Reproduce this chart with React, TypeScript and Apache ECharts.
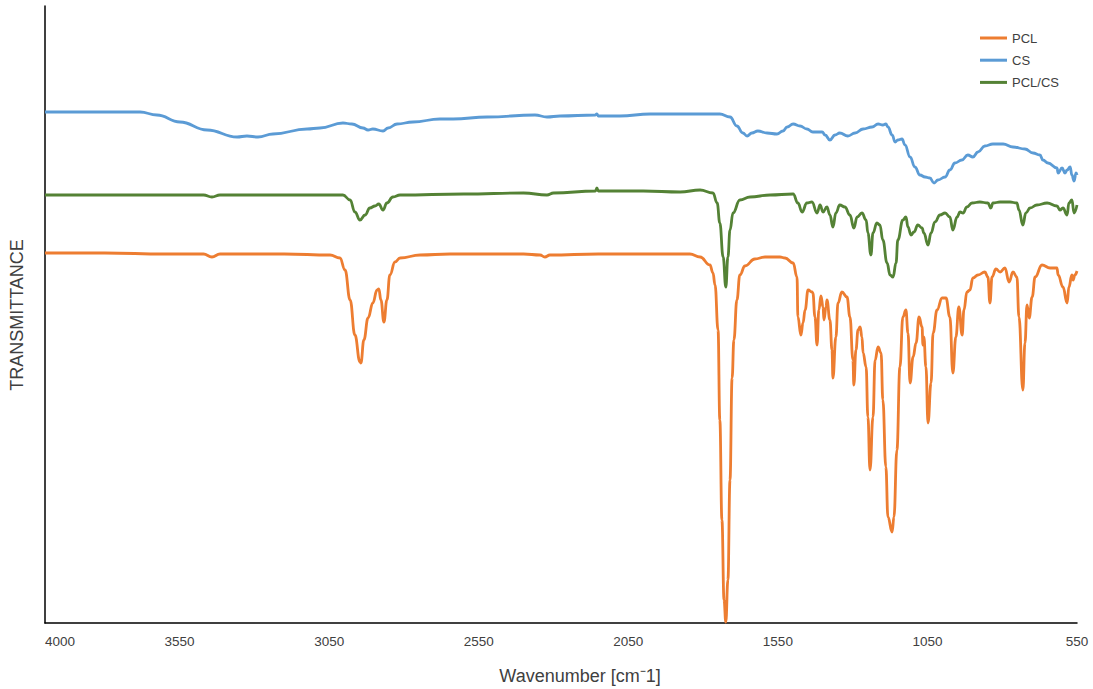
import React, { useEffect, useRef } from "react";
import * as echarts from "echarts";

const seriesNames = ["PCL", "CS", "PCL/CS"];
const seriesColors = ["#ED7D31", "#5B9BD5", "#548235"];
const xTickValues = [550, 1050, 1550, 2050, 2550, 3050, 3550, 4000];

// [wavenumber cm-1, transmittance (a.u.)]
const pclData: number[][] = [
  [4000, 74], [3800, 74], [3600, 73.8], [3470, 73.8], [3442, 73.2], [3415, 73.8], [3200, 73.8], [3047, 73.6],
  [3014, 73], [2997, 70.6], [2980, 64.6], [2964, 57.6], [2947, 52.2], [2944, 52], [2934, 56.6], [2920, 61],
  [2904, 64], [2890, 66.6], [2884, 66.8], [2877, 64.6], [2867, 60.2], [2857, 64.6], [2847, 69.6], [2830, 72.2],
  [2813, 73], [2746, 73.6], [2646, 73.8], [2400, 73.8], [2345, 73.6], [2329, 73.2], [2312, 73.6], [2150, 73.8],
  [2000, 73.8], [1844, 73.8], [1810, 73.2], [1777, 71.6], [1767, 70], [1760, 67.6], [1750, 58.6], [1744, 40.6],
  [1737, 20.6], [1730, 4.6], [1724, 0.2], [1717, 8.6], [1710, 28.6], [1703, 49], [1697, 56.6], [1687, 64.6],
  [1677, 69.6], [1660, 71.4], [1627, 72.8], [1593, 73.2], [1543, 73.2], [1526, 73], [1499, 72], [1486, 69.2],
  [1483, 61.2], [1473, 57.6], [1466, 60], [1459, 62.6], [1449, 66.6], [1436, 66.2], [1433, 66], [1426, 61.2],
  [1419, 55.6], [1413, 62.6], [1406, 65.4], [1399, 63.2], [1396, 60.6], [1389, 63.2], [1386, 64.6], [1376, 60.6],
  [1369, 54.6], [1366, 49], [1356, 57.2], [1349, 64], [1336, 66.2], [1319, 65.2], [1309, 61.2], [1299, 52.6],
  [1296, 47.6], [1289, 54.6], [1282, 58.6], [1275, 59.2], [1269, 57.2], [1265, 54], [1255, 51.2], [1249, 41.2],
  [1242, 30.6], [1232, 41.2], [1225, 52.6], [1215, 55.2], [1205, 54], [1199, 44.6], [1189, 31.2], [1182, 21.2],
  [1168, 18.2], [1162, 21.2], [1152, 34.6], [1142, 51.2], [1132, 61.2], [1122, 62.6], [1115, 58], [1108, 48],
  [1098, 53.2], [1088, 56], [1078, 61.2], [1068, 59.2], [1065, 55.6], [1062, 57.2], [1055, 51.2], [1048, 40],
  [1038, 48], [1031, 58], [1018, 62.6], [1001, 65], [988, 65], [975, 61.2], [965, 50], [955, 57.2], [945, 63.2],
  [934, 57.6], [928, 62.6], [918, 66.2], [908, 66.6], [898, 69], [881, 69.6], [858, 70.2], [848, 69.2], [841, 64],
  [834, 69.2], [821, 70.8], [807, 70.2], [791, 71], [777, 68.2], [764, 70.2], [751, 69.2], [744, 61.2], [731, 46.6],
  [724, 56], [717, 63.6], [710, 61], [700, 65.2], [690, 69.2], [667, 71.6], [640, 71], [617, 71], [613, 69.6],
  [597, 67.2], [583, 64], [577, 67.2], [567, 69.6], [563, 68.6], [557, 69.6], [550, 70.4],
];

const csData: number[][] = [
  [4000, 102.2], [3682, 102.2], [3626, 101.6], [3549, 100.2], [3458, 98.6], [3358, 97.2], [3325, 97.4], [3288, 97.2],
  [3238, 97.8], [3124, 98.8], [3081, 99], [3004, 100], [2974, 99.8], [2937, 99], [2920, 98.6], [2904, 98.8],
  [2870, 98.4], [2853, 99], [2823, 99.8], [2770, 100.2], [2680, 100.8], [2636, 100.8], [2522, 101.2], [2362, 101.6],
  [2322, 101.2], [2278, 101.4], [2161, 101.6], [2155, 101.8], [2150, 101.4], [2078, 101.4], [1977, 101.8],
  [1854, 101.8], [1744, 101.8], [1710, 101.2], [1687, 99.4], [1667, 98], [1653, 97.4], [1637, 98], [1617, 98.4],
  [1586, 98], [1553, 97.8], [1533, 98.4], [1519, 99.2], [1499, 99.8], [1476, 99.4], [1453, 98.8], [1433, 98.2],
  [1402, 98.2], [1392, 97.6], [1376, 96.6], [1359, 97.6], [1343, 98], [1316, 97.4], [1292, 98], [1265, 98.8],
  [1235, 99.2], [1215, 99.8], [1199, 99.6], [1189, 99.8], [1182, 99.2], [1168, 97.6], [1158, 96.2], [1149, 96.6],
  [1135, 96.8], [1125, 95.6], [1108, 93.2], [1092, 91.2], [1075, 89.6], [1058, 89.2], [1042, 89], [1028, 88],
  [1015, 88.6], [991, 89.2], [975, 90.6], [958, 92], [935, 92.6], [915, 93.6], [898, 93.2], [881, 94.2],
  [858, 95.4], [831, 95.8], [797, 95.8], [764, 95.2], [724, 94.8], [697, 94], [674, 93.6], [664, 92.6], [647, 92],
  [617, 91], [613, 90], [600, 91], [590, 90], [583, 90.6], [573, 91.2], [567, 89.6], [560, 88.4], [553, 90],
  [550, 89.6],
];

const pclCsData: number[][] = [
  [4000, 85.6], [3700, 85.6], [3470, 85.6], [3442, 85.2], [3415, 85.6], [3100, 85.6], [3004, 85.6], [2980, 84.6],
  [2964, 82.2], [2947, 80.6], [2930, 81.6], [2914, 83], [2897, 83.4], [2884, 83.8], [2870, 82.6], [2857, 84],
  [2837, 85.2], [2813, 85.6], [2600, 85.8], [2400, 86], [2322, 85.6], [2300, 86], [2160, 86.4], [2155, 87],
  [2150, 86.4], [2000, 86.4], [1877, 86.2], [1810, 86.6], [1767, 86], [1753, 84], [1744, 80], [1733, 73.2],
  [1724, 67.2], [1717, 73.2], [1710, 78.6], [1700, 82], [1677, 84.6], [1643, 85.2], [1576, 85.6], [1499, 85.8],
  [1483, 84], [1469, 82.2], [1453, 84], [1436, 84.2], [1419, 82], [1409, 83.6], [1399, 82.2], [1386, 83.2],
  [1376, 81.6], [1366, 79.2], [1356, 82], [1343, 83.6], [1326, 83.2], [1309, 81.6], [1296, 79], [1285, 81.2],
  [1269, 82], [1255, 80.6], [1249, 78], [1239, 73.6], [1232, 78], [1219, 80], [1209, 79.6], [1199, 76.6],
  [1185, 72], [1175, 69.6], [1165, 69.2], [1155, 72], [1149, 76.6], [1132, 80.6], [1122, 81.2], [1115, 79.2],
  [1105, 77.6], [1095, 78.2], [1082, 79.6], [1068, 79], [1062, 78], [1048, 75.6], [1038, 78], [1025, 80.2],
  [1008, 81.6], [991, 82], [975, 81.2], [965, 78.6], [951, 81.2], [941, 82.2], [931, 82], [918, 83.2], [901, 84],
  [875, 84.2], [848, 84], [838, 83], [831, 84], [807, 84.2], [774, 84.2], [751, 84], [744, 82.6], [731, 79.6],
  [721, 82], [707, 83], [684, 83.6], [650, 84], [617, 83.4], [607, 82.6], [597, 83], [583, 81.6], [577, 84],
  [567, 84.6], [560, 82], [550, 83.6],
];

const FONT = "Arial, 'Liberation Sans', sans-serif";
const TEXT = "#404040";

export default function App() {
  const ref = useRef<HTMLDivElement>(null);
  useEffect(() => {
    if (!ref.current) return;
    const chart = echarts.init(ref.current, undefined, { renderer: "svg" });
    const datasets = [pclData, csData, pclCsData];
    chart.setOption({
      animation: false,
      grid: { left: 45, right: 16, top: 6, bottom: 66 },
      legend: {
        orient: "vertical",
        left: 980,
        top: 31,
        padding: 0,
        icon: "rect",
        itemWidth: 27,
        itemHeight: 3,
        itemGap: 8.2,
        textStyle: { fontFamily: FONT, fontSize: 13, lineHeight: 14, color: TEXT },
        data: seriesNames,
      },
      xAxis: {
        type: "value",
        min: 550,
        max: 4000,
        inverse: true,
        axisLine: { show: true, lineStyle: { color: "#000", width: 1.5 } },
        axisTick: { show: false },
        splitLine: { show: false },
        axisLabel: {
          customValues: xTickValues,
          formatter: (v: number) => String(v),
          fontFamily: FONT,
          fontSize: 13.5,
          color: TEXT,
          margin: 11,
          alignMaxLabel: "left",
        },
      },
      yAxis: {
        type: "value",
        min: 0,
        max: 123.4,
        axisLine: { show: true, lineStyle: { color: "#000", width: 1.5 } },
        axisTick: { show: false },
        axisLabel: { show: false },
        splitLine: { show: false },
      },
      graphic: [
        {
          type: "text",
          x: 580,
          y: 676,
          style: {
            text: "Wavenumber [cm\u207B1]",
            fontFamily: FONT,
            fontSize: 18,
            fill: TEXT,
            textAlign: "center",
            textVerticalAlign: "middle",
          },
        },
        {
          type: "text",
          x: 17,
          y: 315,
          rotation: Math.PI / 2,
          style: {
            text: "TRANSMITTANCE",
            fontFamily: FONT,
            fontSize: 18,
            fill: TEXT,
            textAlign: "center",
            textVerticalAlign: "middle",
          },
        },
      ],
      series: seriesNames.map((name, i) => ({
        name,
        type: "line",
        data: datasets[i],
        symbol: "none",
        smooth: 0.45,
        smoothMonotone: "x",
        color: seriesColors[i],
        lineStyle: { color: seriesColors[i], width: 2.8 },
      })),
    });
    return () => chart.dispose();
  }, []);
  return (
    <div
      ref={ref}
      style={{ position: "absolute", left: 0, top: 0, width: 1093, height: 689 }}
    />
  );
}
